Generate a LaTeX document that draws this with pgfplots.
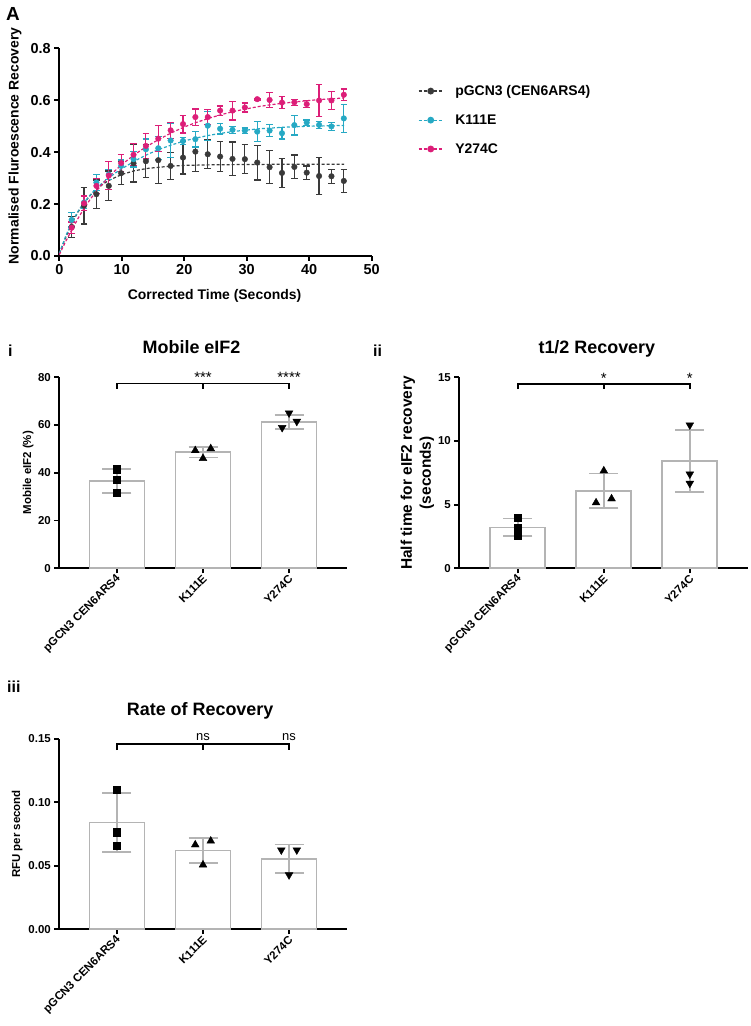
\documentclass[border=0pt]{standalone}
\usepackage{pgfplots}
\pgfplotsset{compat=1.18}
\usepackage{pgfplotstable}
\usepackage{fontspec}
\setmainfont{Liberation Sans}
\definecolor{cblk}{HTML}{3A3A3A}
\definecolor{ccyan}{HTML}{26A9C4}
\definecolor{cpink}{HTML}{DC1E78}
\definecolor{cbar}{HTML}{B4B4B4}
\newcommand{\fs}[1]{\fontsize{#1}{#1}\selectfont}

% ---------- Panel A data ----------
\pgfplotstableread{
t y e
1.98 0.112 0.040
3.96 0.194 0.071
5.94 0.238 0.055
7.92 0.270 0.057
9.90 0.319 0.045
11.88 0.357 0.072
13.86 0.365 0.064
15.84 0.369 0.090
17.82 0.347 0.053
19.80 0.379 0.063
21.78 0.402 0.077
23.76 0.392 0.055
25.74 0.383 0.057
27.72 0.374 0.065
29.70 0.373 0.056
31.68 0.360 0.067
33.66 0.342 0.063
35.64 0.320 0.057
37.62 0.343 0.046
39.60 0.321 0.026
41.58 0.308 0.070
43.56 0.307 0.027
45.54 0.289 0.045
}\blackdata
\pgfplotstableread{
t y e
1.98 0.139 0.027
3.96 0.206 0.022
5.94 0.283 0.030
7.92 0.314 0.018
9.90 0.347 0.023
11.88 0.373 0.030
13.86 0.411 0.040
15.84 0.415 0.044
17.82 0.445 0.065
19.80 0.443 0.013
21.78 0.450 0.030
23.76 0.502 0.056
25.74 0.490 0.020
27.72 0.486 0.013
29.70 0.483 0.010
31.68 0.479 0.039
33.66 0.483 0.022
35.64 0.473 0.022
37.62 0.504 0.038
39.60 0.514 0.010
41.58 0.505 0.013
43.56 0.499 0.016
45.54 0.530 0.055
}\cyandata
\pgfplotstableread{
t y e
1.98 0.109 0.022
3.96 0.203 0.028
5.94 0.270 0.030
7.92 0.310 0.055
9.90 0.358 0.032
11.88 0.390 0.042
13.86 0.424 0.047
15.84 0.452 0.050
17.82 0.484 0.030
19.80 0.508 0.034
21.78 0.535 0.031
23.76 0.535 0.030
25.74 0.560 0.018
27.72 0.560 0.036
29.70 0.572 0.017
31.68 0.604 0.003
33.66 0.601 0.030
35.64 0.591 0.024
37.62 0.592 0.012
39.60 0.585 0.014
41.58 0.599 0.062
43.56 0.599 0.036
45.54 0.621 0.022
}\pinkdata
\pgfplotstableread{
t y
0 0.010
1 0.070
2 0.126
3 0.170
4 0.206
5 0.235
6 0.258
7 0.277
8 0.292
10 0.314
12 0.328
14 0.337
16 0.342
18 0.346
20 0.349
24 0.351
28 0.352
34 0.353
40 0.353
45.6 0.353
}\blackfit
\pgfplotstableread{
t y
0 0.010
1 0.075
2 0.130
3 0.172
4 0.207
5 0.236
6 0.262
7 0.283
8 0.302
9 0.320
10 0.336
12 0.365
14 0.390
16 0.411
18 0.428
20 0.443
22 0.455
24 0.465
26 0.473
28 0.480
30 0.485
32 0.490
34 0.493
36 0.496
38 0.498
40 0.500
42 0.501
44 0.502
45.6 0.503
}\cyanfit
\pgfplotstableread{
t y
0 0.005
1 0.055
2 0.100
3 0.145
4 0.185
5 0.220
6 0.252
7 0.280
8 0.306
9 0.330
10 0.352
12 0.390
14 0.422
16 0.450
18 0.475
20 0.497
22 0.515
24 0.531
26 0.545
28 0.557
30 0.567
32 0.576
34 0.583
36 0.589
38 0.594
40 0.599
42 0.603
44 0.606
45.6 0.609
}\pinkfit

% ---------- bar data ----------
\pgfplotstableread{
x y e
0 36.5 5.0
1 48.6 2.25
2 61.3 3.0
}\mobbars
\pgfplotstableread{
x y e
0 3.21 0.70
1 6.10 1.35
2 8.40 2.43
}\halfbars
\pgfplotstableread{
x y e
0 0.0840 0.0230
1 0.0620 0.0100
2 0.0555 0.0112
}\ratebars

\pgfplotsset{
  gp/.style={
    scale only axis,
    axis lines=left,
    axis line style={-, line width=1.8bp, black},
    tick align=outside,
    major tick length=5bp,
    tick style={line width=1.8bp, black},
    /pgf/number format/assume math mode=true,
    clip=false,
    every axis title shift=0pt,
  },
  gpbar/.style={
    gp,
    xmin=-0.67, xmax=2.67,
    xtick={0,1,2},
    xticklabels={pGCN3 CEN6ARS4, K111E, Y274C},
    xticklabel style={rotate=45, anchor=east, font=\bfseries\fs{11.5}, xshift=2bp, yshift=-4bp},
    yticklabel style={font=\bfseries\fs{11.5}},
    ymin=0,
    title style={font=\bfseries\fs{18}, anchor=base},
  },
  barplot/.style={ybar, bar width=55bp, fill=white, draw=cbar, line width=1.8bp,
    /pgfplots/error bars/y dir=both, /pgfplots/error bars/y explicit,
    /pgfplots/error bars/error bar style={cbar, line width=1.8bp},
    /pgfplots/error bars/error mark options={rotate=90, cbar, line width=1.8bp, mark size=14.5bp}},
  sq/.style={only marks, mark=square*, mark size=3.6bp, black},
  tu/.style={only marks, mark=triangle*, mark size=4.5bp, black},
  td/.style={only marks, mark=triangle*, mark size=4.5bp, black, mark options={rotate=180}},
  dat/.style={only marks, mark=*, mark size=2.8bp, #1,
    /pgfplots/error bars/y dir=both, /pgfplots/error bars/y explicit,
    /pgfplots/error bars/error bar style={line width=1.2bp, #1},
    /pgfplots/error bars/error mark options={rotate=90, line width=1.2bp, mark size=3.3bp, #1}},
  fit/.style={#1, line width=1.2bp, dash pattern=on 3bp off 2bp},
}

\begin{document}
\begin{tikzpicture}
\path[use as bounding box] (0,0) rectangle (751bp,1026bp);

% ================= Panel A =================
\begin{axis}[gp,
  at={(59.3bp,770bp)}, anchor=south west,
  width=312.4bp, height=207.7bp,
  xmin=0, xmax=50, ymin=0, ymax=0.8,
  xtick={0,10,20,30,40,50},
  ytick={0,0.2,0.4,0.6,0.8},
  ticklabel style={font=\bfseries\fs{14.5}},
  yticklabel style={/pgf/number format/.cd, fixed, fixed zerofill, precision=1},
  xlabel={Corrected Time (Seconds)},
  xlabel style={font=\bfseries\fs{14}, at={(axis description cs:0.497,-0.209)}, anchor=base},
  ylabel={Normalised Fluroescence Recovery},
  ylabel style={font=\bfseries\fs{14}, at={(axis description cs:-0.142,0.53)}, anchor=center},
  legend image code/.code={\draw[mark repeat=2,mark phase=2,#1] plot coordinates {(0bp,0bp) (12bp,0bp) (24bp,0bp)};},
  legend style={draw=none, fill=none, at={(axis description cs:1.148,0.655)}, anchor=west,
    font=\bfseries\fs{14}, row sep=17.7bp, inner sep=0pt, nodes={inner sep=0pt},
    /tikz/every odd column/.append style={column sep=12bp}},
  legend cell align=left,
]
\addplot[forget plot, fit=cblk] table[x=t,y=y] {\blackfit};
\addplot[forget plot, fit=ccyan] table[x=t,y=y] {\cyanfit};
\addplot[forget plot, fit=cpink] table[x=t,y=y] {\pinkfit};
\addplot[forget plot, dat=cblk] table[x=t,y=y,y error=e] {\blackdata};
\addplot[forget plot, dat=ccyan] table[x=t,y=y,y error=e] {\cyandata};
\addplot[forget plot, dat=cpink] table[x=t,y=y,y error=e] {\pinkdata};
\addlegendimage{cblk, line width=1.2bp, dash pattern=on 3bp off 2bp, mark=*, mark size=2.8bp, mark options={solid}}
\addlegendentry{pGCN3 (CEN6ARS4)}
\addlegendimage{ccyan, line width=1.2bp, dash pattern=on 3bp off 2bp, mark=*, mark size=2.8bp, mark options={solid}}
\addlegendentry{K111E}
\addlegendimage{cpink, line width=1.2bp, dash pattern=on 3bp off 2bp, mark=*, mark size=2.8bp, mark options={solid}}
\addlegendentry{Y274C}
\end{axis}

% ================= Panel i =================
\begin{axis}[gpbar,
  at={(59.3bp,457.7bp)}, anchor=south west,
  width=287.4bp, height=191.1bp,
  ymax=80, ytick={0,20,40,60,80},
  ylabel={Mobile eIF2 (\%)},
  ylabel style={font=\bfseries\fs{11.5}, at={(axis description cs:-0.108,0.5)}, anchor=center},
  title={Mobile eIF2},
  title style={at={(axis description cs:0.46,1.124)}},
]
\addplot[barplot] table[x=x,y=y,y error=e] {\mobbars};
\addplot[sq] coordinates {(0,41.5) (0,37.0) (0,31.6)};
\addplot[tu] coordinates {(0.91,49.3) (1.09,50.1) (1,46.0)};
\addplot[td] coordinates {(2,65.0) (1.92,58.9) (2.09,61.5)};
\draw[line width=1.6bp] (axis cs:0,75.1) |- (axis cs:2,77.3) -- (axis cs:2,75.1);
\draw[line width=1.6bp] (axis cs:1,77.3) -- (axis cs:1,75.1);
\node[anchor=base, font=\fs{15}, inner sep=0pt] at (axis cs:1,77.7) {***};
\node[anchor=base, font=\fs{15}, inner sep=0pt] at (axis cs:2,77.7) {****};
\end{axis}

% ================= Panel ii =================
\begin{axis}[gpbar,
  at={(459.3bp,457.7bp)}, anchor=south west,
  width=289bp, height=191bp,
  xmin=-0.68, xmax=2.68,
  ymax=15, ytick={0,5,10,15},
  ylabel={Half time for eIF2 recovery\\(seconds)},
  ylabel style={font=\bfseries\fontsize{15.5}{19}\selectfont, align=center, at={(axis description cs:-0.145,0.5)}, anchor=center},
  title={t1/2 Recovery},
  title style={at={(axis description cs:0.476,1.124)}},
]
\addplot[barplot] table[x=x,y=y,y error=e] {\halfbars};
\addplot[sq] coordinates {(0,3.95) (0,3.2) (0,2.6)};
\addplot[tu] coordinates {(1,7.66) (0.91,5.15) (1.09,5.46)};
\addplot[td] coordinates {(2,11.25) (2,7.4) (2,6.67)};
\draw[line width=1.6bp] (axis cs:0,14.07) |- (axis cs:2,14.47) -- (axis cs:2,14.07);
\draw[line width=1.6bp] (axis cs:1,14.47) -- (axis cs:1,14.07);
\node[anchor=base, font=\fs{15}, inner sep=0pt] at (axis cs:1,14.55) {*};
\node[anchor=base, font=\fs{15}, inner sep=0pt] at (axis cs:2,14.55) {*};
\end{axis}

% ================= Panel iii =================
\begin{axis}[gpbar,
  at={(59.3bp,96.7bp)}, anchor=south west,
  width=287.4bp, height=190.6bp,
  ymax=0.15, ytick={0,0.05,0.1,0.15},
  yticklabel style={/pgf/number format/.cd, fixed, fixed zerofill, precision=2},
  ylabel={RFU per second},
  ylabel style={font=\bfseries\fs{11.5}, at={(axis description cs:-0.147,0.5)}, anchor=center},
  title={Rate of Recovery},
  title style={at={(axis description cs:0.49,1.124)}},
]
\addplot[barplot] table[x=x,y=y,y error=e] {\ratebars};
\addplot[sq] coordinates {(0,0.1097) (0,0.0764) (0,0.0658)};
\addplot[tu] coordinates {(0.91,0.0665) (1.09,0.0695) (1,0.0507)};
\addplot[td] coordinates {(1.91,0.0624) (2.09,0.0624) (2,0.0428)};
\draw[line width=1.6bp] (axis cs:0,0.141) |- (axis cs:2,0.1457) -- (axis cs:2,0.141);
\draw[line width=1.6bp] (axis cs:1,0.1457) -- (axis cs:1,0.141);
\node[anchor=base, font=\fs{13}, inner sep=0pt] at (axis cs:1,0.1488) {ns};
\node[anchor=base, font=\fs{13}, inner sep=0pt] at (axis cs:2,0.1488) {ns};
\end{axis}

% panel letters
\node[anchor=base west, font=\bfseries\fs{19}, inner sep=0pt] at (6bp,1005bp) {A};
\node[anchor=base west, font=\bfseries\fs{16}, inner sep=0pt] at (8bp,669.3bp) {i};
\node[anchor=base west, font=\bfseries\fs{16}, inner sep=0pt] at (373bp,669.3bp) {ii};
\node[anchor=base west, font=\bfseries\fs{16}, inner sep=0pt] at (7bp,333bp) {iii};
\end{tikzpicture}
\end{document}
